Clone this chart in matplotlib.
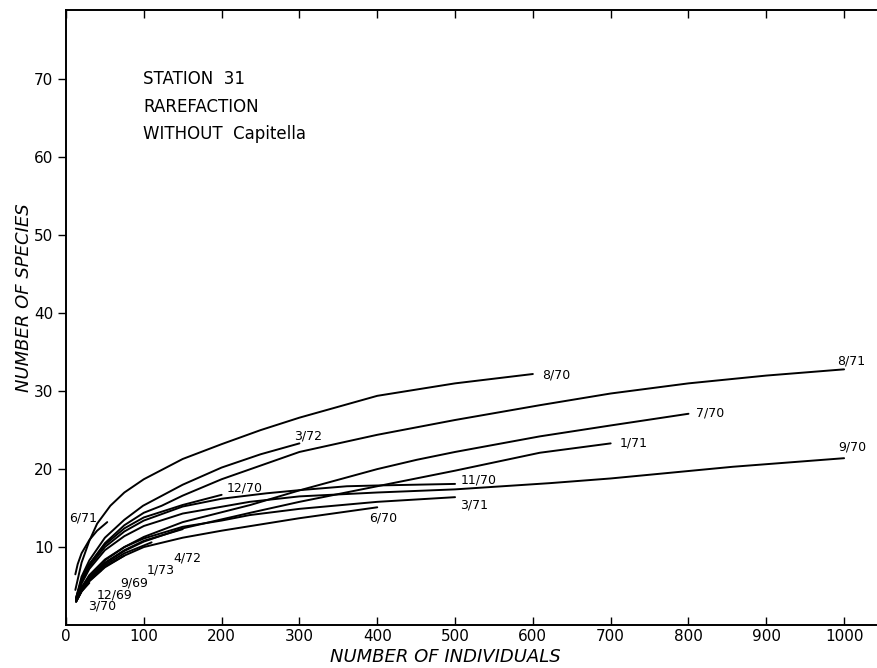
import matplotlib
matplotlib.use("Agg")
import matplotlib.pyplot as plt

# ---- data (number of individuals, number of species) ----
n_8_70 = [12, 20, 30, 40, 57, 75, 100, 150, 200, 250, 300, 400, 500, 600]
s_8_70 = [4.5, 8.0, 10.8, 13.0, 15.3, 17.0, 18.7, 21.3, 23.2, 25.0, 26.6, 29.4, 31.0, 32.2]

n_8_71 = [13, 20, 30, 50, 75, 100, 123, 150, 200, 300, 400, 500, 609, 700, 800, 900, 1000]
s_8_71 = [3.5, 5.8, 7.8, 10.5, 12.8, 14.4, 15.3, 16.6, 18.7, 22.2, 24.4, 26.3, 28.2, 29.7, 31.0, 32.0, 32.8]

n_3_72 = [13, 20, 30, 50, 75, 99, 150, 200, 250, 300]
s_3_72 = [3.5, 6.2, 8.3, 11.2, 13.5, 15.3, 18.0, 20.2, 21.9, 23.3]

n_7_70 = [13, 20, 30, 50, 75, 100, 150, 237, 301, 400, 451, 500, 609, 700, 800]
s_7_70 = [3.2, 4.8, 6.3, 8.3, 10.0, 11.3, 13.2, 15.4, 17.3, 20.0, 21.2, 22.2, 24.2, 25.6, 27.1]

n_1_71 = [13, 20, 30, 50, 75, 100, 150, 237, 300, 400, 500, 609, 700]
s_1_71 = [3.2, 4.6, 6.0, 7.9, 9.5, 10.7, 12.4, 14.4, 15.8, 17.8, 19.8, 22.1, 23.3]

n_9_70 = [13, 20, 30, 50, 75, 100, 150, 236, 300, 400, 500, 622, 700, 857, 1000]
s_9_70 = [3.3, 5.3, 7.2, 9.6, 11.4, 12.7, 14.3, 15.8, 16.5, 17.0, 17.4, 18.2, 18.8, 20.3, 21.4]

n_11_70 = [13, 20, 30, 50, 75, 100, 150, 200, 258, 300, 361, 400, 500]
s_11_70 = [3.3, 5.5, 7.5, 10.0, 12.0, 13.4, 15.2, 16.2, 16.9, 17.3, 17.8, 17.9, 18.1]

n_3_71 = [13, 20, 30, 50, 75, 100, 150, 200, 236, 300, 400, 500]
s_3_71 = [3.2, 4.8, 6.4, 8.4, 10.0, 11.1, 12.6, 13.4, 14.1, 14.9, 15.8, 16.4]

n_6_70 = [13, 20, 30, 50, 75, 100, 150, 200, 300, 400]
s_6_70 = [3.0, 4.3, 5.6, 7.4, 8.9, 10.0, 11.2, 12.1, 13.7, 15.1]

n_12_70 = [13, 20, 30, 50, 75, 100, 150, 200]
s_12_70 = [3.4, 5.8, 7.8, 10.3, 12.4, 13.8, 15.4, 16.7]

n_6_71 = [12, 15, 20, 30, 40, 53]
s_6_71 = [6.5, 7.8, 9.2, 10.9, 12.1, 13.2]

n_4_72 = [13, 20, 30, 50, 75, 100, 150]
s_4_72 = [3.1, 4.6, 6.1, 8.0, 9.6, 10.8, 12.3]

n_1_73 = [13, 20, 30, 50, 75, 110]
s_1_73 = [3.1, 4.5, 5.9, 7.7, 9.2, 10.6]

n_9_69 = [13, 20, 30, 50, 75]
s_9_69 = [3.0, 4.4, 5.8, 7.5, 8.9]

n_12_69 = [13, 20, 30, 45]
s_12_69 = [3.0, 4.4, 5.7, 7.0]

n_3_70 = [13, 20, 30]
s_3_70 = [3.0, 4.3, 5.4]

curve_names = ["8/70", "8/71", "3/72", "7/70", "1/71", "9/70", "11/70", "3/71",
               "6/70", "12/70", "6/71", "4/72", "1/73", "9/69", "12/69", "3/70"]
curve_n = [n_8_70, n_8_71, n_3_72, n_7_70, n_1_71, n_9_70, n_11_70, n_3_71,
           n_6_70, n_12_70, n_6_71, n_4_72, n_1_73, n_9_69, n_12_69, n_3_70]
curve_s = [s_8_70, s_8_71, s_3_72, s_7_70, s_1_71, s_9_70, s_11_70, s_3_71,
           s_6_70, s_12_70, s_6_71, s_4_72, s_1_73, s_9_69, s_12_69, s_3_70]

# label anchor positions (data coordinates) and alignment
label_pos = {
    "8/70": (612, 32.1, "left"),
    "8/71": (1009, 33.9, "center"),
    "3/72": (311, 24.3, "center"),
    "7/70": (810, 27.2, "left"),
    "1/71": (712, 23.3, "left"),
    "9/70": (1011, 22.9, "center"),
    "11/70": (507, 18.6, "left"),
    "3/71": (507, 15.4, "left"),
    "6/70": (408, 13.7, "center"),
    "12/70": (230, 17.6, "center"),
    "6/71": (22, 13.7, "center"),
    "4/72": (156, 8.6, "center"),
    "1/73": (122, 7.0, "center"),
    "9/69": (87, 5.4, "center"),
    "12/69": (63, 3.9, "center"),
    "3/70": (46, 2.4, "center"),
}

x_ticks = [0, 100, 200, 300, 400, 500, 600, 700, 800, 900, 1000]
y_ticks = [10, 20, 30, 40, 50, 60, 70]
title_lines = ["STATION  31", "RAREFACTION", "WITHOUT  Capitella"]

plt.rcParams["font.family"] = ["DejaVu Sans"]

fig = plt.figure(figsize=(8.78, 6.68), dpi=100)
ax = fig.add_axes([66 / 878, 1 - 625 / 668, (876 - 66) / 878, (625 - 10) / 668])
ax.set_xlim(0, 1041)
ax.set_ylim(0, 78.9)

for n, s in zip(curve_n, curve_s):
    ax.plot(n, s, color="black", lw=1.4, solid_capstyle="round")

for name in curve_names:
    x, y, ha = label_pos[name]
    ax.text(x, y, name, fontsize=9, ha=ha, va="center", color="black")

for i, line in enumerate(title_lines):
    ax.text(99, 70.0 - i * 3.5, line, fontsize=12, ha="left", va="center")

ax.spines["right"].set_visible(False)
for sp in ["left", "bottom", "top"]:
    ax.spines[sp].set_linewidth(1.4)

ax.set_xticks(x_ticks)
ax.set_xticklabels([str(v) for v in x_ticks], fontsize=11)
ax.set_yticks(y_ticks)
ax.set_yticklabels([str(v) for v in y_ticks], fontsize=11)
ax.tick_params(axis="x", direction="in", length=6, width=1.0, top=True, pad=3)
ax.tick_params(axis="y", direction="out", length=6, width=1.0, pad=3)

fig.text(445 / 878, 1 - 657 / 668, "NUMBER OF INDIVIDUALS", fontsize=13,
         style="italic", ha="center", va="center")
fig.text(24 / 878, 1 - 298 / 668, "NUMBER OF SPECIES", fontsize=13,
         style="italic", ha="center", va="center", rotation=90)

fig.savefig("out.png", dpi=100)
